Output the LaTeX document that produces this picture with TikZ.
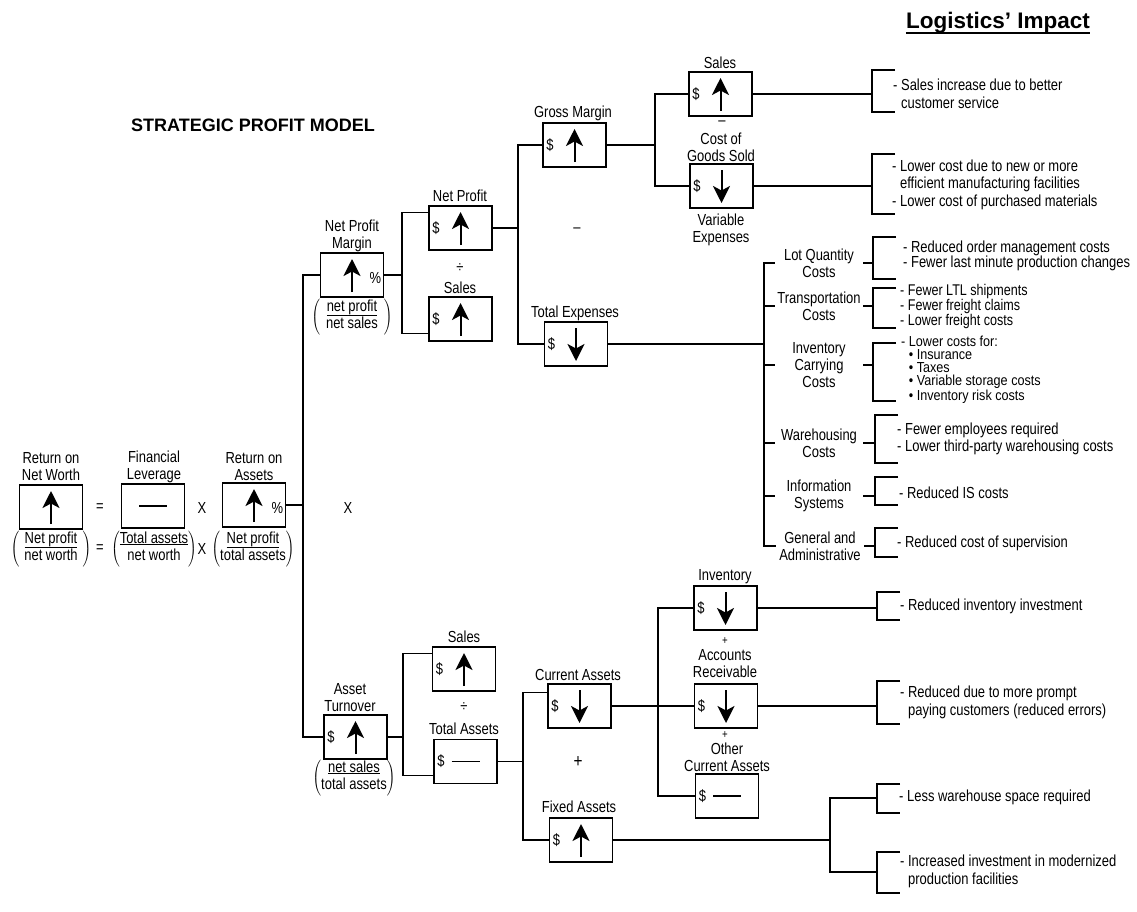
\documentclass[tikz,border=0pt]{standalone}
\usepackage{fontspec}
\setmainfont{Liberation Sans}[FakeStretch=0.81]
\newfontfamily\headfont{Liberation Sans}
\newfontfamily\listfont{Liberation Sans}[FakeStretch=0.87]
\usetikzlibrary{arrows.meta,calc}

\tikzset{
  vbox/.style={draw, line width=1.5pt, minimum width=63pt, minimum height=44pt, inner sep=0pt},
  conn/.style={line width=1.3pt},
  txt/.style={font=\fontsize{16}{17}\selectfont, align=center, inner sep=0pt},
  cat/.style={txt, minimum width=88pt},
  note/.style={font=\fontsize{16}{17}\selectfont, align=left, anchor=west, inner sep=0pt},
  sym/.style={line width=2pt, -{Stealth[length=17pt,width=17pt,inset=4.5pt]}},
  flat/.style={line width=1.6pt},
  brack/.style={line width=1.3pt},
}

% value boxes with a trend symbol
\newcommand\boxup[3]{\node[vbox] (#1) at (#2,#3) {};
  \draw[sym] ($(#1.center)+(0,17)$) -- ($(#1.center)+(0,-16)$);}
\newcommand\boxdown[3]{\node[vbox] (#1) at (#2,#3) {};
  \draw[sym] ($(#1.center)+(0,-16)$) -- ($(#1.center)+(0,17)$);}
\newcommand\boxflat[3]{\node[vbox] (#1) at (#2,#3) {};
  \draw[flat] ($(#1.center)+(-14,0)$) -- ($(#1.center)+(14,0)$);}
\newcommand\putdollar[1]{\node[txt, anchor=west] (#1-d) at ($(#1.west)+(4,0)$) {\$};}
\newcommand\putpct[1]{\node[txt, anchor=east] (#1-p) at ($(#1.east)+(-3,3)$) {\%};}
% ratio in parentheses with underlined numerator
\newcommand\numer[1]{\vtop{\hbox{#1}\kern-0.5pt\hrule height 1.1pt}}
\newcommand\pfrac[3]{$\left(\begin{tabular}{@{\hspace{#3}}c@{\hspace{#3}}}\numer{#1}\\#2\end{tabular}\right)$}
% bracket in front of a list of effects
\newcommand\brk[3]{\draw[brack] (#1+23,#2) -- (#1,#2) -- (#1,#3) -- (#1+23,#3);}

\begin{document}
\begin{tikzpicture}[x=1pt,y=-1pt]
\fill[white] (0,0) rectangle (1137,911);
\useasboundingbox (0,0) rectangle (1137,911);

% headings
\node[font=\headfont\bfseries\fontsize{18}{20}\selectfont, anchor=base west, inner sep=0pt] (title) at (131,131) {STRATEGIC PROFIT MODEL};
\node[font=\headfont\bfseries\fontsize{22.5}{24}\selectfont, anchor=base, inner sep=0pt] (impact) at (998,28) {Logistics’ Impact};
\draw[line width=1.6pt] ($(impact.base west)+(0,5)$) -- ($(impact.base east)+(0,5)$);

% return on net worth
\boxup{rnw}{51}{507}
\boxflat{fl}{153}{506}
\boxup{roa}{254}{505} \putpct{roa}
\node[txt] (rnwL) at (51,467) {Return on\\Net Worth};
\node[txt] (flL) at (154,467) {Financial\\Leverage};
\node[txt] (roaL) at (254,467) {Return on\\Assets};
\node[txt] (eq1) at (100,508) {=};
\node[txt] (x1) at (202,508) {X};
\node[txt] (x2) at (348,508) {X};
\node[txt] (rnwF) at (51,549) {\pfrac{Net profit}{net worth}{5pt}};
\node[txt] (eq2) at (100,549) {=};
\node[txt] (flF) at (154,549) {\pfrac{Total assets}{net worth}{0pt}};
\node[txt] (x3) at (202,549) {X};
\node[txt] (roaF) at (253,549) {\pfrac{Net profit}{total assets}{0pt}};

% net profit margin branch
\boxup{npm}{352}{275} \putpct{npm}
\node[txt] (npmL) at (352,236) {Net Profit\\Margin};
\node[txt] (npmF) at (352,317) {\pfrac{net profit}{net sales}{6pt}};

\boxup{np}{460.5}{228} \putdollar{np}
\node[txt] (npL) at (460,196) {Net Profit};
\node[txt] (div1) at (460,268) {÷};
\boxup{s1}{460.5}{319} \putdollar{s1}
\node[txt] (s1L) at (460,288) {Sales};

\boxup{gm}{574.5}{145} \putdollar{gm}
\node[txt] (gmL) at (573,113) {Gross Margin};
\node[txt] (minus1) at (577,230) {–};
\boxdown{te}{576}{344} \putdollar{te}
\node[txt] (teL) at (575,313) {Total Expenses};

\boxup{s2}{720.5}{94} \putdollar{s2}
\node[txt] (s2L) at (720,63) {Sales};
\node[txt] (minus2) at (722,123) {–};
\node[txt] (cogsL) at (721,147) {Cost of\\Goods Sold};
\boxdown{cogs}{721.5}{186} \putdollar{cogs}
\node[txt] (veL) at (721,230) {Variable\\Expenses};

% cost categories
\node[cat] (lq) at (819,263) {Lot Quantity\\Costs};
\node[cat] (tr) at (819,306) {Transportation\\Costs};
\node[cat] (icc) at (819,365) {Inventory\\Carrying\\Costs};
\node[cat] (wh) at (819,443) {Warehousing\\Costs};
\node[cat] (isys) at (819,496) {Information\\Systems};
\node[cat] (ga) at (820,546) {General and\\Administrative};

% asset turnover branch
\boxup{at}{355.5}{737} \putdollar{at}
\node[txt] (atL) at (350,698) {Asset\\Turnover};
\node[txt] (atF) at (354,778) {\pfrac{net sales}{total assets}{0pt}};

\boxup{s3}{464}{669} \putdollar{s3}
\node[txt] (s3L) at (464,637) {Sales};
\node[txt] (div2) at (464,707) {÷};
\boxflat{ta}{465.5}{761.5} \putdollar{ta}
\node[txt] (taL) at (464,729) {Total Assets};

\boxdown{ca}{579.5}{706} \putdollar{ca}
\node[txt] (caL) at (578,675) {Current Assets};
\node[txt, font=\fontsize{19}{19}\selectfont] (plus1) at (578,762) {+};
\boxup{fa}{581}{840} \putdollar{fa}
\node[txt] (faL) at (579,807) {Fixed Assets};

\boxdown{inv}{725.5}{608} \putdollar{inv}
\node[txt] (invL) at (725,577) {Inventory};
\node[txt, font=\fontsize{12}{12}\selectfont] (plus2) at (725,641) {+};
\node[txt] (arL) at (725,664) {Accounts\\Receivable};
\boxdown{ar}{726}{706} \putdollar{ar}
\node[txt, font=\fontsize{12}{12}\selectfont] (plus3) at (725,735) {+};
\node[txt] (ocaL) at (727,757) {Other\\Current Assets};
\boxflat{oca}{727}{796} \putdollar{oca}

% junctions
\coordinate (j0) at (303,505);
\coordinate (j1) at (402,275);
\coordinate (j2) at (518,228);
\coordinate (j3) at (655,145);
\coordinate (j4) at (764,344);
\coordinate (j5) at (403,737);
\coordinate (j6) at (523,761.5);
\coordinate (j7) at (658,706);
\coordinate (j8) at (830,840);
\coordinate (bxa) at (872,0);
\coordinate (bxb) at (873,0);
\coordinate (bxc) at (875,0);
\coordinate (bxd) at (877,0);

% connectors
\draw[conn] (roa.east) -- (j0);
\draw[conn] (npm.west) -- (npm.west -| j0) -- (at.west -| j0) -- (at.west);
\draw[conn] (npm.east) -- (j1);
\coordinate (np-in) at ($(np.north west)+(0,7)$);
\coordinate (s1-in) at ($(s1.south west)+(0,-8)$);
\draw[conn] (np-in) -- (np-in -| j1) -- (s1-in -| j1) -- (s1-in);
\draw[conn] (np.east) -- (j2);
\draw[conn] (gm.west) -- (gm.west -| j2) -- (te.west -| j2) -- (te.west);
\draw[conn] (gm.east) -- (j3);
\draw[conn] (s2.west) -- (s2.west -| j3) -- (cogs.west -| j3) -- (cogs.west);
\draw[conn] (s2.east) -- (s2.east -| bxa);
\draw[conn] (cogs.east) -- (cogs.east -| bxa);
\draw[conn] (te.east) -- (j4);
\draw[conn] (lq.west) -- (lq.west -| j4) -- (ga.west -| j4) -- (ga.west);
\foreach \nm in {tr,icc,wh,isys} \draw[conn] (\nm.west) -- (\nm.west -| j4);
\foreach \nm in {lq,tr,icc} \draw[conn] (\nm.east) -- (\nm.east -| bxb);
\foreach \nm in {wh,isys,ga} \draw[conn] (\nm.east) -- (\nm.east -| bxc);

\draw[conn] (at.east) -- (j5);
\coordinate (s3-in) at ($(s3.north west)+(0,7)$);
\coordinate (ta-in) at ($(ta.south west)+(0,-9)$);
\draw[conn] (s3-in) -- (s3-in -| j5) -- (ta-in -| j5) -- (ta-in);
\draw[conn] (ta.east) -- (j6);
\coordinate (ca-in) at ($(ca.north west)+(0,9)$);
\draw[conn] (ca-in) -- (ca-in -| j6) -- (fa.west -| j6) -- (fa.west);
\draw[conn] (ca.east) -- (ar.west);
\draw[conn] (inv.west) -- (inv.west -| j7) -- (oca.west -| j7) -- (oca.west);
\draw[conn] (inv.east) -- (inv.east -| bxd);
\draw[conn] (ar.east) -- (ar.east -| bxd);
\draw[conn] (fa.east) -- (j8);
\coordinate (fa-up) at (830,798);
\coordinate (fa-dn) at (830,872);
\draw[conn] (fa-up -| bxd) -- (fa-up) -- (fa-dn) -- (fa-dn -| bxd);

% brackets
\brk{872}{70}{112}
\brk{872}{154}{214}
\brk{873}{237}{279}
\brk{873}{288}{328}
\brk{873}{343}{401}
\brk{875}{415}{463}
\brk{875}{477}{505}
\brk{875}{528}{557}
\brk{877}{592}{620}
\brk{877}{681}{724}
\brk{877}{784}{813}
\brk{877}{852}{893}

% effects of logistics
\node[note, font=\fontsize{16}{18}\selectfont] (n1) at (893,93.5) {- Sales increase due to better\\\hphantom{- }customer service};
\node[note, font=\fontsize{16}{17.5}\selectfont] (n2) at (892,184.5) {- Lower cost due to new or more\\\hphantom{- }efficient manufacturing facilities\\- Lower cost of purchased materials};
\node[note, font=\fontsize{16}{15}\selectfont] (n3) at (903,255.5) {- Reduced order management costs\\- Fewer last minute production changes};
\node[note, font=\fontsize{15.5}{13.5}\selectfont] (n4) at (900,306.5) {- Fewer LTL shipments\\- Fewer freight claims\\- Lower freight costs};
\node[note, font=\listfont\fontsize{14.5}{13}\selectfont] (n5) at (901,370) {- Lower costs for:\\\hphantom{- }\textbullet\ Insurance\\\hphantom{- }\textbullet\ Taxes\\\hphantom{- }\textbullet\ Variable storage costs\\\hphantom{- }\textbullet\ Inventory risk costs};
\node[note] (n6) at (897,438.5) {- Fewer employees required\\- Lower third-party warehousing costs};
\node[note] (n7) at (899,493) {- Reduced IS costs};
\node[note] (n8) at (897,543) {- Reduced cost of supervision};
\node[note] (n9) at (900,606) {- Reduced inventory investment};
\node[note, font=\fontsize{16}{18}\selectfont] (n10) at (900,702.5) {- Reduced due to more prompt\\\hphantom{- }paying customers (reduced errors)};
\node[note] (n11) at (899,797) {- Less warehouse space required};
\node[note, font=\fontsize{16}{18}\selectfont] (n12) at (900,871) {- Increased investment in modernized\\\hphantom{- }production facilities};
\end{tikzpicture}
\end{document}
